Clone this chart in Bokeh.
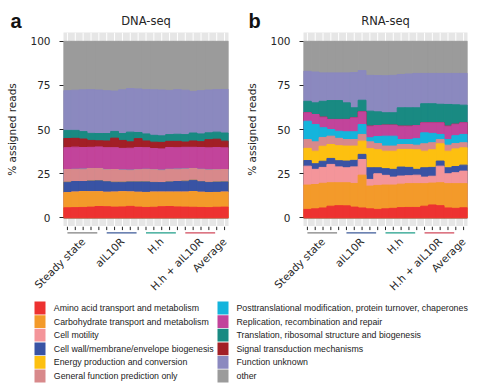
import math
from bokeh.plotting import figure
from bokeh.models import ColumnDataSource, FixedTicker, Range1d
from bokeh.layouts import column, row
from bokeh.embed import file_html
from bokeh.resources import INLINE
from bokeh.core.properties import value

# ---------------- data ----------------
samples = [1, 2, 3, 4, 5, 6, 7, 8, 9, 10, 11, 12, 13, 14, 15, 16, 17, 18, 19, 20, 21]

legend_labels = [
    "Amino acid transport and metabolism",
    "Carbohydrate transport and metabolism",
    "Cell motility",
    "Cell wall/membrane/envelope biogenesis",
    "Energy production and conversion",
    "General function prediction only",
    "Posttranslational modification, protein turnover, chaperones",
    "Replication, recombination and repair",
    "Translation, ribosomal structure and biogenesis",
    "Signal transduction mechanisms",
    "Function unknown",
    "other",
]
legend_colors = ["#ED3231", "#F39A2A", "#F4959A", "#3953A4", "#FDC010", "#D8898B",
                 "#14B4DC", "#C2449B", "#198A82", "#A21F26", "#8B89BF", "#9B9B9B"]

# stacking order (bottom -> top), indices into legend lists
stack_order = [0, 1, 2, 3, 4, 5, 6, 7, 9, 8, 10, 11]

panel_titles = ["DNA-seq", "RNA-seq"]
panel_letters = ["a", "b"]

group_labels = ["Steady state", "aIL10R", "H.h", "H.h + aIL10R", "Average"]
group_label_pos = [3, 8, 13, 18, 21]
group_first = [1, 6, 11, 16]
group_last = [5, 10, 15, 20]
group_line_colors = ["#808080", "#3D5A98", "#1F9E89", "#D1495B"]

y_ticks = [0, 25, 50, 75, 100]

# DNA-seq (% assigned reads per sample)
dna_amino = [5.6, 5.7, 5.8, 6.0, 6.3, 6.2, 6.0, 6.1, 6.4, 6.0, 5.8, 5.9, 6.2, 6.3, 6.1, 6.0, 5.9, 5.8, 5.7, 5.9, 6.0]
dna_carb = [8.6, 8.8, 9.0, 8.7, 8.4, 8.2, 8.5, 8.6, 8.2, 8.4, 8.5, 8.6, 8.3, 8.2, 8.4, 8.5, 8.9, 8.6, 8.5, 8.4, 8.5]
dna_motility = [0.0, 0.0, 0.0, 0.0, 0.0, 0.0, 0.0, 0.0, 0.0, 0.0, 0.0, 0.0, 0.0, 0.0, 0.0, 0.0, 0.0, 0.0, 0.0, 0.0, 0.0]
dna_wall = [5.9, 6.0, 5.7, 6.1, 6.2, 6.0, 5.6, 5.4, 5.7, 5.9, 6.0, 5.5, 5.4, 5.8, 6.0, 6.2, 6.4, 6.0, 5.8, 5.9, 5.8]
dna_energy = [0.0, 0.0, 0.0, 0.0, 0.0, 0.0, 0.0, 0.0, 0.0, 0.0, 0.0, 0.0, 0.0, 0.0, 0.0, 0.0, 0.0, 0.0, 0.0, 0.0, 0.0]
dna_general = [7.2, 6.9, 7.0, 7.1, 7.0, 6.8, 7.2, 6.9, 6.6, 6.9, 7.1, 7.2, 7.0, 7.1, 7.0, 6.9, 6.7, 7.0, 7.1, 7.0, 7.0]
dna_posttrans = [0.0, 0.0, 0.0, 0.0, 0.0, 0.0, 0.0, 0.0, 0.0, 0.0, 0.0, 0.0, 0.0, 0.0, 0.0, 0.0, 0.0, 0.0, 0.0, 0.0, 0.0]
dna_replication = [12.4, 12.6, 12.3, 12.0, 12.2, 12.5, 12.4, 12.3, 12.5, 12.6, 12.3, 12.0, 12.1, 12.4, 12.2, 12.3, 12.0, 12.4, 12.5, 12.6, 12.3]
dna_translation = [4.6, 4.5, 4.2, 4.0, 4.1, 4.2, 3.8, 3.9, 5.5, 3.5, 4.0, 3.9, 3.7, 3.8, 4.0, 4.2, 4.5, 4.4, 3.9, 4.0, 4.6]
dna_signal = [5.2, 5.0, 4.8, 3.9, 3.5, 3.8, 5.4, 4.5, 3.6, 5.0, 3.8, 3.6, 3.7, 3.5, 3.6, 3.0, 3.6, 3.3, 4.6, 4.7, 3.8]
dna_unknown = [22.5, 22.8, 23.7, 24.8, 24.7, 24.3, 22.9, 24.8, 24.7, 24.7, 25.1, 25.8, 26.0, 25.1, 25.3, 25.2, 23.6, 24.5, 24.3, 24.1, 24.7]
dna_other = [28.0, 27.7, 27.5, 27.4, 27.6, 28.0, 28.2, 27.5, 26.8, 27.0, 27.4, 27.5, 27.6, 27.8, 27.4, 27.7, 28.4, 28.0, 27.6, 27.4, 27.3]

# RNA-seq (% assigned reads per sample)
rna_amino = [4.7, 5.0, 5.5, 6.5, 6.8, 6.7, 6.0, 5.5, 5.0, 4.7, 5.0, 5.3, 5.7, 5.8, 5.8, 6.5, 7.2, 6.8, 5.5, 5.3, 5.6]
rna_carb = [13.8, 13.8, 14.0, 13.3, 13.0, 13.1, 13.4, 18.6, 12.9, 13.6, 13.5, 13.2, 13.3, 13.5, 13.5, 12.8, 12.4, 13.0, 13.8, 14.0, 13.7]
rna_motility = [10.7, 8.6, 9.0, 10.4, 9.0, 8.5, 9.4, 8.9, 3.8, 6.6, 5.5, 4.5, 4.6, 4.5, 4.8, 3.7, 3.9, 9.4, 5.6, 6.2, 7.1]
rna_wall = [3.2, 3.2, 3.5, 3.4, 3.5, 3.8, 3.7, 2.9, 6.6, 3.4, 3.8, 4.4, 5.1, 4.7, 3.3, 5.3, 5.0, 2.9, 3.4, 3.5, 3.4]
rna_energy = [6.9, 7.1, 8.5, 7.9, 8.5, 8.5, 8.1, 7.5, 10.8, 10.2, 9.9, 10.3, 10.0, 10.2, 11.1, 9.4, 10.0, 9.8, 9.4, 10.0, 9.8]
rna_general = [5.0, 5.3, 5.0, 4.7, 4.2, 3.7, 3.7, 3.8, 3.9, 3.5, 2.9, 2.9, 2.8, 2.8, 2.6, 4.2, 4.0, 2.4, 3.4, 3.0, 2.9]
rna_posttrans = [10.4, 9.8, 5.5, 3.8, 4.0, 4.4, 4.4, 5.6, 2.3, 4.0, 5.6, 5.6, 2.8, 2.8, 3.7, 6.2, 5.3, 2.9, 3.2, 4.5, 4.7]
rna_replication = [4.8, 5.7, 6.0, 5.7, 6.7, 7.0, 7.9, 7.2, 6.6, 6.2, 6.3, 6.3, 7.6, 7.6, 7.4, 5.7, 6.0, 6.6, 7.6, 6.5, 6.6]
rna_translation = [6.5, 6.6, 9.0, 10.7, 10.7, 9.4, 5.7, 6.6, 8.5, 7.8, 7.0, 7.0, 10.4, 10.4, 10.1, 10.8, 10.8, 10.5, 12.3, 11.0, 10.0]
rna_signal = [0.0, 0.0, 0.0, 0.0, 0.0, 0.0, 0.0, 0.0, 0.0, 0.0, 0.0, 0.0, 0.0, 0.0, 0.0, 0.0, 0.0, 0.0, 0.0, 0.0, 0.0]
rna_unknown = [17.0, 17.5, 16.1, 15.7, 15.7, 17.0, 20.0, 16.8, 20.3, 20.6, 21.0, 21.2, 18.9, 19.2, 19.5, 17.2, 17.2, 17.5, 17.6, 17.8, 18.0]
rna_other = [17.0, 17.4, 17.9, 17.9, 17.9, 17.9, 17.7, 16.6, 19.3, 19.4, 19.5, 19.3, 18.8, 18.5, 18.2, 18.2, 18.2, 18.2, 18.2, 18.2, 18.2]

dna_series = [dna_amino, dna_carb, dna_motility, dna_wall, dna_energy, dna_general,
              dna_posttrans, dna_replication, dna_translation, dna_signal, dna_unknown, dna_other]
rna_series = [rna_amino, rna_carb, rna_motility, rna_wall, rna_energy, rna_general,
              rna_posttrans, rna_replication, rna_translation, rna_signal, rna_unknown, rna_other]

AX_FONT = "DejaVu Sans"
TXT = "#262626"
LEFT = 63
FRAME_H = 194
Y_LO, Y_HI = -5, 105


def style_axis(ax):
    ax.axis_line_color = None
    ax.major_tick_in = 0
    ax.major_tick_out = 4
    ax.major_tick_line_color = TXT
    ax.minor_tick_line_color = None
    ax.major_label_text_font = AX_FONT
    ax.major_label_text_font_size = "10.5px"
    ax.major_label_text_color = TXT


def make_panel(series, frame_w, right_border):
    p = figure(frame_width=frame_w, frame_height=FRAME_H,
               x_range=Range1d(0.5, 21.5), y_range=Range1d(Y_LO, Y_HI),
               output_backend="svg", toolbar_location=None,
               min_border_left=LEFT, min_border_right=right_border,
               min_border_top=0, min_border_bottom=0,
               background_fill_color="#E6E6E6", border_fill_color="white",
               outline_line_color=None)
    p.title.visible = False
    p.grid.visible = False

    # white vertical grid lines, visible in the expanded strips above and below the stack
    n = len(samples)
    p.segment(x0=samples, y0=[Y_LO] * n, x1=samples, y1=[0] * n, line_color="white", line_width=1)
    p.segment(x0=samples, y0=[100] * n, x1=samples, y1=[Y_HI] * n, line_color="white", line_width=1)

    # stacked bars: cumulative tops, painted from the top layer down so that
    # every layer boundary is backed by the layer above it (no seams)
    cum = [0.0] * n
    tops = []
    for idx in stack_order:
        cum = [c + v for c, v in zip(cum, series[idx])]
        tops.append((idx, cum))
    for idx, top in reversed(tops):
        src = ColumnDataSource({"x": samples, "top": top})
        p.vbar(x="x", top="top", bottom=0, width=1.0, source=src,
               fill_color=legend_colors[idx], line_color=legend_colors[idx], line_width=1)

    p.xaxis.visible = False
    p.yaxis.ticker = FixedTicker(ticks=y_ticks)
    p.yaxis.axis_label = "% assigned reads"
    p.yaxis.axis_label_text_font = AX_FONT
    p.yaxis.axis_label_text_font_style = "normal"
    p.yaxis.axis_label_text_font_size = "10.5px"
    p.yaxis.axis_label_text_color = TXT
    p.yaxis.axis_label_standoff = 9
    p.yaxis.major_label_standoff = 9
    style_axis(p.yaxis)
    return p


def make_lower(panel, frame_w, right_border):
    q = figure(frame_width=frame_w, frame_height=10,
               x_range=panel.x_range, y_range=Range1d(10, 0),
               output_backend="svg", toolbar_location=None,
               min_border_left=LEFT, min_border_right=right_border,
               min_border_top=0, min_border_bottom=61,
               background_fill_color="white", border_fill_color="white",
               outline_line_color=None)
    q.title.visible = False
    q.grid.visible = False
    q.yaxis.visible = False
    n = len(samples)
    # tick marks at every sample
    q.segment(x0=samples, y0=[0] * n, x1=samples, y1=[3.6] * n, line_color=TXT, line_width=1)
    # coloured group underlines
    q.segment(x0=group_first, y0=[6.4] * 4, x1=[g - 0.2 for g in group_last], y1=[6.4] * 4,
              line_color=group_line_colors, line_width=1.2)
    q.xaxis.ticker = FixedTicker(ticks=group_label_pos)
    q.xaxis.major_label_overrides = dict(zip(group_label_pos, group_labels))
    q.xaxis.major_label_orientation = math.pi / 4
    q.xaxis.major_label_standoff = 3
    style_axis(q.xaxis)
    q.xaxis.major_tick_out = 0
    q.xaxis.major_tick_line_color = None
    return q


p1 = make_panel(dna_series, 165, 12)
p2 = make_panel(rna_series, 164, 13)
l1 = make_lower(p1, 165, 12)
l2 = make_lower(p2, 164, 13)

# header with panel letters and titles
hdr = figure(width=480, height=32, x_range=Range1d(0, 480), y_range=Range1d(32, 0),
             output_backend="svg", toolbar_location=None, min_border=0,
             outline_line_color=None, border_fill_color="white", background_fill_color="white")
hdr.title.visible = False
hdr.axis.visible = False
hdr.grid.visible = False
hdr.text(x=[10, 248], y=[20, 20], text=panel_letters, text_baseline="alphabetic",
         text_font=value("Liberation Sans"), text_font_style="bold",
         text_font_size=value("20px"), text_color="#111111")
hdr.text(x=[LEFT + 165 / 2, 240 + LEFT + 164 / 2], y=[20, 20], text=panel_titles,
         text_align="center", text_baseline="middle",
         text_font=value(AX_FONT), text_font_size=value("11.5px"), text_color=TXT)

# legend
leg = figure(width=480, height=92, x_range=Range1d(0, 480), y_range=Range1d(92, 0),
             output_backend="svg", toolbar_location=None, min_border=0,
             outline_line_color=None, border_fill_color="white", background_fill_color="white")
leg.title.visible = False
leg.axis.visible = False
leg.grid.visible = False
sw_x, tx_x, ys = [], [], []
col_sw = [39.5, 222.5]
col_tx = [53.3, 236.0]
for i in range(len(legend_labels)):
    c, r = divmod(i, 6)
    sw_x.append(col_sw[c])
    tx_x.append(col_tx[c])
    ys.append(8.5 + 13.6 * r)
leg.rect(x=sw_x, y=ys, width=11, height=12.8, fill_color=legend_colors, line_color=None)
leg.text(x=tx_x, y=ys, text=legend_labels, text_baseline="middle", text_align="left",
         text_font=value("Liberation Sans"), text_font_size=value("8.8px"), text_color="#222222")

layout = column(hdr, row(p1, p2), row(l1, l2), leg)
open("out.html", "w").write(file_html(layout, INLINE))
